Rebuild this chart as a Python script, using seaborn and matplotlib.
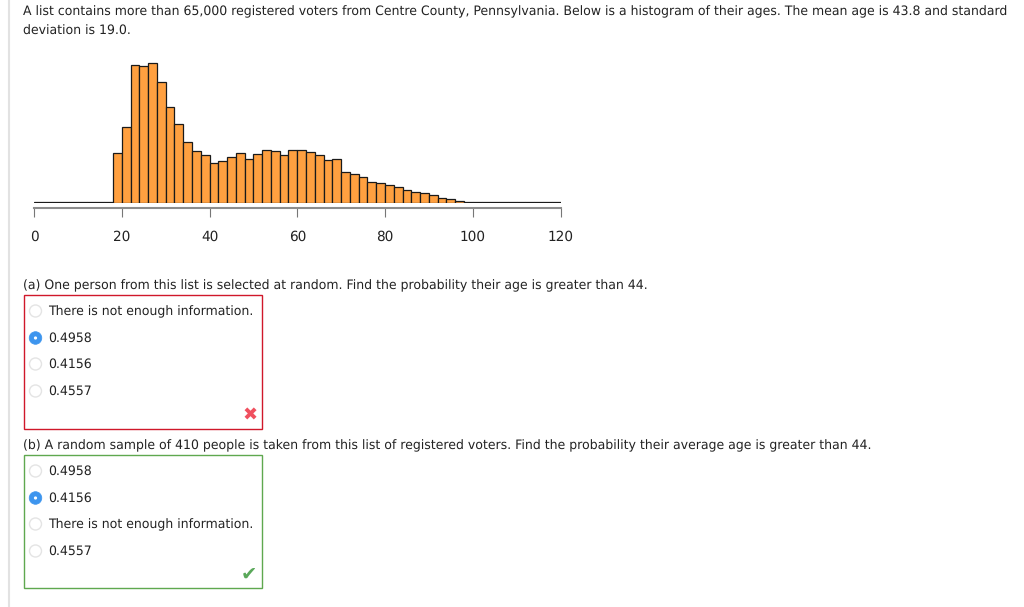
import numpy as np
import matplotlib
matplotlib.use("Agg")
import matplotlib.pyplot as plt
from matplotlib.patches import Circle, Rectangle
import seaborn as sns

# histogram heights, one per 2 year bin from 0 to 120
bin_edges = list(range(0, 122, 2))
heights = [0.2, 0.2, 0.2, 0.2, 0.2, 0.2, 0.2, 0.2, 0.3, 49.3,
           76, 137.5, 136.5, 139, 120.7, 95.7, 79, 60.7, 51.7, 47.7,
           39.3, 42, 45.7, 50, 44, 49, 53, 52, 47.7, 52.7,
           53, 50.3, 47.7, 42.7, 43.7, 31, 29, 25.7, 21, 20,
           18, 15.3, 13, 10.3, 9.3, 7.3, 4.7, 3.3, 1.7, 0.7,
           0.2, 0.2, 0.2, 0.2, 0.2, 0.2, 0.2, 0.2, 0.2, 0.2]
tick_values = [0, 20, 40, 60, 80, 100, 120]

intro = ["A list contains more than 65,000 registered voters from Centre County, Pennsylvania. Below is a histogram of their ages. The mean age is 43.8 and standard",
         "deviation is 19.0."]
question_a = "(a) One person from this list is selected at random. Find the probability their age is greater than 44."
question_b = "(b) A random sample of 410 people is taken from this list of registered voters. Find the probability their average age is greater than 44."
options_a = ["There is not enough information.", "0.4958", "0.4156", "0.4557"]
options_b = ["0.4958", "0.4156", "There is not enough information.", "0.4557"]

TEXT = "#222222"
FONT = 9.04

sns.set_theme(style="white")
plt.rcParams["font.family"] = ["DejaVu Sans"]
# hinting snaps glyph widths, turn it off so the text width scales smoothly
plt.rcParams["text.hinting"] = "no_hinting"

W, H = 1024, 607
fig = plt.figure(figsize=(W / 100, H / 100), dpi=100)

# overlay in pixel coordinates for the page furniture
page = fig.add_axes([0, 0, 1, 1])
page.set_xlim(0, W)
page.set_ylim(H, 0)
page.axis("off")

# histogram axes, x runs 0-120 over px 34-561, y units are px above baseline
ax = fig.add_axes([34 / W, (H - 202.5) / H, (560.5 - 34) / W, 142.5 / H])
mids = (np.array(bin_edges[:-1]) + np.array(bin_edges[1:])) / 2
sns.histplot(x=mids, weights=heights, bins=bin_edges, color="#FFA040", alpha=1,
             edgecolor="#1a1a1a", linewidth=0.9, ax=ax)
ax.set_xlim(0, 120)
ax.set_ylim(0, 142.5)
ax.set_xlabel("")
ax.set_ylabel("")
ax.set_yticks([])
ax.set_xticks(tick_values)
ax.patch.set_alpha(0)
for s in ["top", "left", "right"]:
    ax.spines[s].set_visible(False)
ax.spines["bottom"].set_position(("outward", 3.7))
ax.spines["bottom"].set_color("#8c8c8c")
ax.spines["bottom"].set_linewidth(1.5)
ax.tick_params(axis="x", bottom=True, length=6.5, width=0.8, color="#777777",
               pad=9.6, labelsize=9.8, labelcolor=TEXT)

# left page rule
page.plot([9, 9], [0, H], color="#e2e2e2", lw=1.5)

page.text(23, 11.5, intro[0], fontsize=FONT, color=TEXT, va="center")
page.text(23, 31, intro[1], fontsize=FONT, color=TEXT, va="center")
page.text(23, 286, question_a, fontsize=FONT, color=TEXT, va="center")
page.text(23, 446, question_b, fontsize=FONT, color=TEXT, va="center")


def option_block(options, ys, picked):
    for i, (label, y) in enumerate(zip(options, ys)):
        if i == picked:
            page.add_patch(Circle((35.5, y), 6.3, fc="#3d95ee", ec="#3d95ee", lw=0.5))
            page.add_patch(Circle((35.5, y), 1.6, fc="white", ec="none"))
        else:
            page.add_patch(Circle((35.5, y), 6, fc="white", ec="#e4e4e4", lw=1))
        page.text(48.5, y + 0.5, label, fontsize=FONT, color=TEXT, va="center")


page.add_patch(Rectangle((23.5, 294.5), 238, 134, fc="none", ec="#d0182a", lw=1))
option_block(options_a, [311, 338, 364, 391], 1)
page.text(250, 416, "\u2716", fontsize=13, color="#f0505f", ha="center", va="center")

page.add_patch(Rectangle((23.5, 454.5), 238, 133.5, fc="none", ec="#5fa84f", lw=1))
option_block(options_b, [471, 498, 524, 551], 1)
page.text(248.5, 575, "\u2714", fontsize=14, color="#5aa85a", ha="center", va="center")

fig.savefig("out.png", dpi=100)
plt.close(fig)
